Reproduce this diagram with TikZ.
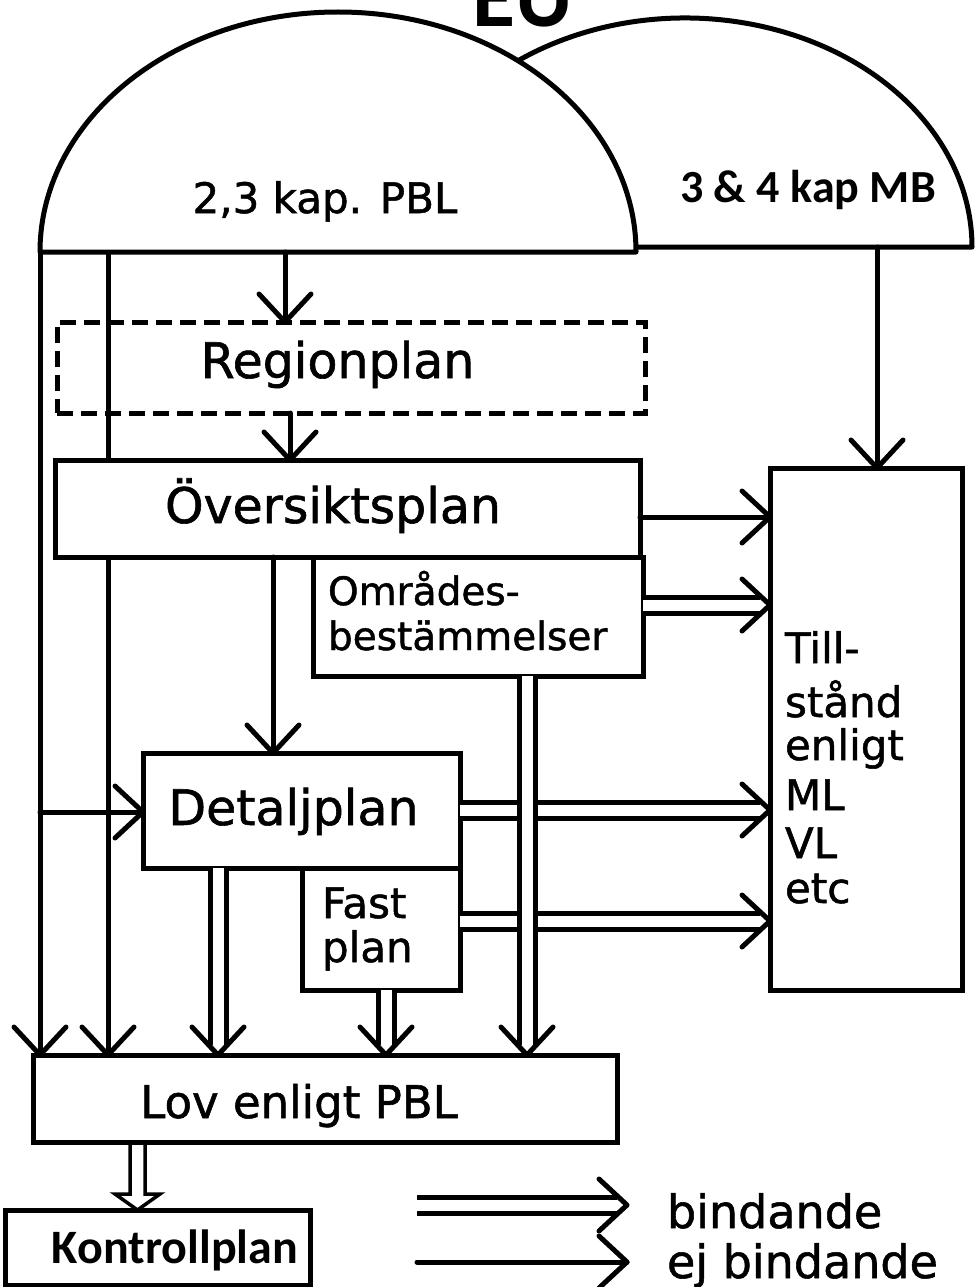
\documentclass[tikz,border=0pt]{standalone}
\usepackage{fontspec}
\setmainfont{DejaVu Sans}[FakeBold=1.2]
\newfontfamily\carlito{Carlito}
\usetikzlibrary{arrows.meta,calc,backgrounds}
\tikzset{
  ln/.style={line width=5pt, line cap=round, line join=round},
  box/.style={draw, line width=5pt, fill=white, rectangle, inner sep=0pt, outer sep=0pt},
  dbox/.style={draw, line width=5pt, dash pattern=on 16pt off 8pt, rectangle, inner sep=0pt, outer sep=0pt},
  hand/.style={inner sep=0pt, outer sep=0pt, anchor=base, font=\fontsize{#1}{#1}\selectfont},
  handw/.style={hand=#1, anchor=base west},
  typed/.style={inner sep=0pt, outer sep=0pt, anchor=base, font=\carlito\bfseries\fontsize{#1}{#1}\selectfont},
  dbl/.style={draw, double, double distance=11pt, line width=5pt, shorten >=10pt},
  tipR/.pic={\draw[ln] (-28,-26) -- (0,0) -- (-28,26);},
  tipD/.pic={\draw[ln] (-26,-28) -- (0,0) -- (26,-28);},
}
\begin{document}
\begin{tikzpicture}[x=1pt,y=-1pt]
\useasboundingbox (0,0) rectangle (977,1287);

% domes
\draw[ln] (415.3,168.7) arc[start angle=200, end angle=360, x radius=287, y radius=229]
  coordinate (mbR) -- (636,247) coordinate (mbL);
\filldraw[ln, fill=white] (40,252) coordinate (pbl1)
  arc[start angle=180, end angle=360, x radius=298, y radius=240] coordinate (pblR) -- cycle;

% helper coordinates on the dome bases and columns / rows
\coordinate (pbl2) at (108,252);
\coordinate (pblA) at (285,252);
\coordinate (mbA) at (877,247);
\coordinate (cRO) at (290,0);
\coordinate (cOD) at (273,0);
\coordinate (cDL) at (218,0);
\coordinate (cFL) at (386,0);
\coordinate (cOL) at (527,0);
\coordinate (cK) at (137.5,0);
\coordinate (rO) at (0,517);
\coordinate (rOm) at (0,605);
\coordinate (rD) at (0,810);
\coordinate (rLD) at (0,812);
\coordinate (rF) at (0,921);

% boxes
\node[dbox, minimum width=588pt, minimum height=91pt] (reg) at (351,367.5) {};
\node[box, minimum width=585pt, minimum height=97pt] (ovs) at (347.5,508.5) {};
\node[box, minimum width=330pt, minimum height=119pt] (omr) at (478,616.5) {};
\node[box, minimum width=317pt, minimum height=115pt] (det) at (301.5,810.5) {};
\node[box, minimum width=158pt, minimum height=122pt] (fast) at (381,929) {};
\node[box, minimum width=192pt, minimum height=522pt] (till) at (866,729) {};
\node[box, minimum width=584pt, minimum height=87pt] (lov) at (325,1098.5) {};
\node[box, minimum width=305pt, minimum height=75pt] (kon) at (157.5,1247.5) {};

% texts
\node[typed=88] (eut) at (523,27) {EU};
\node[hand=42] (pblt) at (325,213) {2,3 kap. PBL};
\node[typed=46] (mbt) at (808,202) {3 \& 4 kap MB};
\node[hand=49] (regt) at (337.5,378) {Regionplan};
\node[hand=49] (ovst) at (333,523) {Översiktsplan};
\node[handw=39] (omrt1) at (328,605) {Områdes-};
\node[handw=39] (omrt2) at (328,650) {bestämmelser};
\node[hand=49] (dett) at (293.5,825) {Detaljplan};
\node[handw=42] (fastt1) at (322,918) {Fast};
\node[handw=42] (fastt2) at (322,962) {plan};
\node[handw=42] (tillt1) at (785,663) {Till-};
\node[handw=42] (tillt2) at (785,717) {stånd};
\node[handw=42] (tillt3) at (785,760) {enligt};
\node[handw=42] (tillt4) at (785,810) {ML};
\node[handw=42] (tillt5) at (785,858) {VL};
\node[handw=42] (tillt6) at (785,903) {etc};
\node[hand=45] (lovt) at (299,1118) {Lov enligt PBL};
\node[typed=48] (kont) at (175,1263) {Kontrollplan};
\node[handw=46] (leg1) at (667,1228) {bindande};
\node[handw=46] (leg2) at (667,1278) {ej bindande};

% long lines from the PBL dome to Lov (behind the boxes)
\begin{scope}[on background layer]
\draw[ln] (pbl1) -- (pbl1 |- lov.north);
\draw[ln] (pbl2) -- (pbl2 |- lov.north);
\end{scope}
\pic at (pbl1 |- lov.north) {tipD};
\pic at (pbl2 |- lov.north) {tipD};

% single (non-binding) arrows
\draw[ln] (pblA) -- (pblA |- reg.north);
\pic at (pblA |- reg.north) {tipD};
\draw[ln] (cRO |- reg.south) -- (cRO |- ovs.north);
\pic at (cRO |- ovs.north) {tipD};
\draw[ln] (cOD |- ovs.south) -- (cOD |- det.north);
\pic at (cOD |- det.north) {tipD};
\draw[ln] (pbl1 |- rLD) -- (det.west |- rLD);
\pic at (det.west |- rLD) {tipR};
\draw[ln] (ovs.east |- rO) -- (till.west |- rO);
\pic at (till.west |- rO) {tipR};
\draw[ln] (mbA) -- (mbA |- till.north);
\pic at (mbA |- till.north) {tipD};

% double (binding) arrows
\draw[dbl] (omr.east |- rOm) -- (till.west |- rOm);
\pic at (till.west |- rOm) {tipR};
\draw[dbl] (det.east |- rD) -- (till.west |- rD);
\pic at (till.west |- rD) {tipR};
\draw[dbl] (fast.east |- rF) -- (till.west |- rF);
\pic at (till.west |- rF) {tipR};
\draw[dbl] (cOL |- omr.south) -- (cOL |- lov.north);
\pic at (cOL |- lov.north) {tipD};
\draw[dbl] (cDL |- det.south) -- (cDL |- lov.north);
\pic at (cDL |- lov.north) {tipD};
\draw[dbl] (cFL |- fast.south) -- (cFL |- lov.north);
\pic at (cFL |- lov.north) {tipD};

% hollow arrow Lov -> Kontrollplan
\coordinate (ks) at (cK |- lov.south);
\coordinate (ke) at (cK |- kon.north);
\draw[line width=3.5pt, line join=miter]
  ($(ks)+(-7.5,0)$) -- ($(ke)+(-7.5,-16)$) -- ($(ke)+(-22.5,-16)$) -- (ke)
  -- ($(ke)+(22.5,-16)$) -- ($(ke)+(7.5,-16)$) -- ($(ks)+(7.5,0)$);

% legend
\coordinate (lg1s) at (417,1205);
\coordinate (lg1e) at (627,1205);
\coordinate (lg2s) at (417,1262);
\coordinate (lg2e) at (627,1262);
\draw[dbl] (lg1s) -- (lg1e);
\pic at (lg1e) {tipR};
\draw[ln] (lg2s) -- (lg2e);
\pic at (lg2e) {tipR};
\end{tikzpicture}
\end{document}
